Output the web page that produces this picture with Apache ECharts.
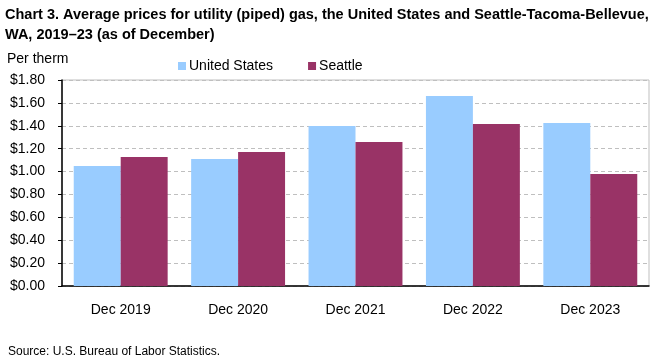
<!DOCTYPE html>
<html><head><meta charset="utf-8">
<script src="https://cdn.jsdelivr.net/npm/echarts@6/dist/echarts.min.js"></script>
<style>html,body{margin:0;padding:0;background:#fff}#c{width:661px;height:361px}</style>
</head><body><div id="c"></div>
<script>
const categories = ['Dec 2019','Dec 2020','Dec 2021','Dec 2022','Dec 2023'];
const unitedStates = [1.049, 1.110, 1.399, 1.661, 1.425];
const seattle = [1.128, 1.171, 1.259, 1.416, 0.979];
const yTicks = [0, 0.2, 0.4, 0.6, 0.8, 1.0, 1.2, 1.4, 1.6, 1.8];

const FONT = 'Liberation Sans';
const chart = echarts.init(document.getElementById('c'), null, {renderer:'canvas'});
chart.setOption({
  animation:false,
  textStyle:{fontFamily:FONT},
  title:[{
    text:'Chart 3. Average prices for utility (piped) gas, the United States and Seattle-Tacoma-Bellevue,\nWA, 2019\u201323 (as of December)',
    left:0, top:0,
    textStyle:{fontSize:14.5, fontWeight:'bold', color:'#000', lineHeight:20, fontFamily:FONT}
  },{
    text:'Per therm', left:2, top:47,
    textStyle:{fontSize:14, fontWeight:'normal', color:'#000', fontFamily:FONT}
  },{
    text:'Source: U.S. Bureau of Labor Statistics.', left:3, top:341,
    textStyle:{fontSize:12, fontWeight:'normal', color:'#000', fontFamily:FONT}
  }],
  legend:{
    left:173, top:54, itemWidth:8, itemHeight:8, itemGap:35,
    icon:'rect',
    textStyle:{fontSize:14, color:'#000', fontFamily:FONT, padding:[0,0,0,-2]},
    data:['United States','Seattle']
  },
  grid:{left:62, right:12, top:80, bottom:75, show:true, borderColor:'#bfbfbf', borderWidth:1},
  xAxis:{
    type:'category', data:categories,
    axisLine:{lineStyle:{color:'#000', width:1.5}},
    axisTick:{show:false},
    axisLabel:{fontSize:14, color:'#000', margin:17, fontFamily:FONT}
  },
  yAxis:{
    type:'value', min:0, max:1.8, interval:0.2,
    axisLine:{show:true, lineStyle:{color:'#000', width:1.5}},
    axisTick:{show:true, length:4, lineStyle:{color:'#000'}},
    axisLabel:{fontSize:14, color:'#000', margin:17, fontFamily:FONT,
      formatter:v=>'$'+v.toFixed(2)},
    splitLine:{show:true, lineStyle:{color:'#bfbfbf', type:[4,3], width:1}}
  },
  series:[{
    name:'United States', type:'bar', data:unitedStates, barGap:'0%', barCategoryGap:'20%',
    itemStyle:{color:'#99ccff'}
  },{
    name:'Seattle', type:'bar', data:seattle, barGap:'0%', barCategoryGap:'20%',
    itemStyle:{color:'#993366'}
  }]
});
</script></body></html>
